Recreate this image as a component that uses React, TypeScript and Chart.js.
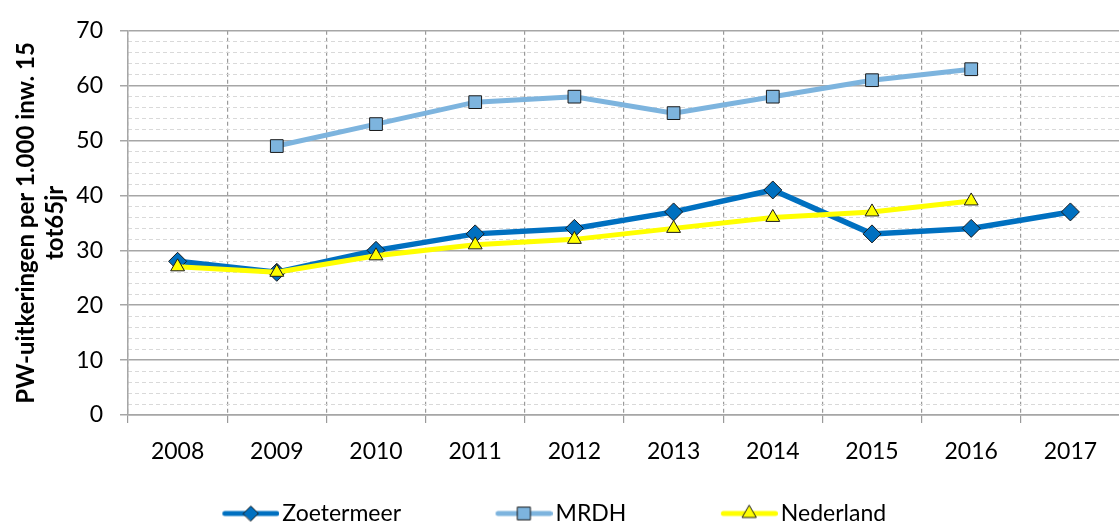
import React, { useEffect, useRef } from "react";
import { Chart, registerables } from "chart.js";

Chart.register(...registerables);

// ---- data ----
const years = ["2008", "2009", "2010", "2011", "2012", "2013", "2014", "2015", "2016", "2017"];
const zoetermeer = [28, 26, 30, 33, 34, 37, 41, 33, 34, 37];
const mrdh = [null, 49, 53, 57, 58, 55, 58, 61, 63, null];
const nederland = [27, 26, 29, 31, 32, 34, 36, 37, 39, null];
const seriesNames = ["Zoetermeer", "MRDH", "Nederland"];
const yTitle = ["PW-uitkeringen per 1.000 inw. 15", "tot65jr"];
const yMin = 0;
const yMax = 70;
const yMajorStep = 10;
const yMinorStep = 2;

const FONT = "Lato";
const C_ZOE = "#0070c0";
const C_MRDH = "#7db4de";
const C_NL = "#ffff00";
const C_EDGE = "#1a1a1a";

function drawMarker(ctx: CanvasRenderingContext2D, style: string, x: number, y: number, r: number, fill: string) {
  ctx.beginPath();
  if (style === "rectRot") {
    ctx.moveTo(x - r, y);
    ctx.lineTo(x, y - r);
    ctx.lineTo(x + r, y);
    ctx.lineTo(x, y + r);
  } else if (style === "rect") {
    const s = r * Math.SQRT1_2;
    ctx.rect(x - s, y - s, 2 * s, 2 * s);
  } else {
    const w = r * Math.sin((2 * Math.PI) / 3);
    ctx.moveTo(x, y - r);
    ctx.lineTo(x + w, y + r / 2);
    ctx.lineTo(x - w, y + r / 2);
  }
  ctx.closePath();
  ctx.fillStyle = fill;
  ctx.fill();
  ctx.lineWidth = 1;
  ctx.strokeStyle = C_EDGE;
  ctx.stroke();
}

function legendGlyph(color: string, style: string, r: number) {
  const W = 150;
  const H = 22;
  const L = 57;
  const E = W - L;
  const c = document.createElement("canvas");
  c.width = W;
  c.height = H;
  const ctx = c.getContext("2d")!;
  ctx.strokeStyle = color;
  ctx.lineWidth = 5;
  ctx.lineCap = "round";
  ctx.beginPath();
  ctx.moveTo(E + 2.5, H / 2);
  ctx.lineTo(W - 2.5, H / 2);
  ctx.stroke();
  drawMarker(ctx, style, E + L / 2, H / 2, r, color);
  return c;
}

export default function App() {
  const ref = useRef<HTMLCanvasElement>(null);

  useEffect(() => {
    const canvas = ref.current!;
    const glyphs = [
      legendGlyph(C_ZOE, "rectRot", 7.5),
      legendGlyph(C_MRDH, "rect", 9),
      legendGlyph(C_NL, "triangle", 8),
    ];
    const tickFont = { family: FONT, size: 23 };
    const chart = new Chart(canvas, {
      type: "line",
      data: {
        labels: years,
        datasets: [
          {
            label: seriesNames[0],
            data: zoetermeer,
            borderColor: C_ZOE,
            backgroundColor: C_ZOE,
            borderWidth: 5.5,
            pointStyle: "rectRot",
            pointRadius: 9,
            pointHoverRadius: 9,
            pointBackgroundColor: C_ZOE,
            pointBorderColor: C_EDGE,
            pointBorderWidth: 1,
            tension: 0,
            order: 3,
          },
          {
            label: seriesNames[1],
            data: mrdh,
            borderColor: C_MRDH,
            backgroundColor: C_MRDH,
            borderWidth: 5,
            pointStyle: "rect",
            pointRadius: 9,
            pointHoverRadius: 9,
            pointBackgroundColor: C_MRDH,
            pointBorderColor: C_EDGE,
            pointBorderWidth: 1,
            tension: 0,
            order: 2,
          },
          {
            label: seriesNames[2],
            data: nederland,
            borderColor: C_NL,
            backgroundColor: C_NL,
            borderWidth: 5,
            pointStyle: "triangle",
            pointRadius: 8,
            pointHoverRadius: 8,
            pointBackgroundColor: C_NL,
            pointBorderColor: C_EDGE,
            pointBorderWidth: 1,
            tension: 0,
            order: 1,
          },
        ],
      },
      options: {
        responsive: false,
        animation: false,
        events: [],
        layout: { padding: { left: 0, top: 24, right: 0, bottom: -11 } },
        scales: {
          x: {
            type: "category",
            offset: true,
            grid: { offset: true, color: "#9a9a9a", lineWidth: 1.2, tickLength: 8, drawTicks: true },
            border: { display: true, color: "#a6a6a6", width: 1.5, dash: [4, 3] },
            ticks: { padding: 15, font: tickFont, color: "#000", maxRotation: 0, autoSkip: false },
            afterFit: (s: any) => {
              s.height = 77;
            },
          },
          y: {
            type: "linear",
            position: "left",
            min: yMin,
            max: yMax,
            ticks: { stepSize: yMajorStep, padding: 17, font: tickFont, color: "#000" },
            grid: { color: "#a6a6a6", lineWidth: 1.5, tickLength: 8, drawTicks: true },
            border: { display: true, color: "#a6a6a6", width: 1.5 },
            title: {
              display: true,
              text: yTitle,
              color: "#000",
              font: { family: FONT, size: 24, weight: "bold", lineHeight: 1.2 },
              padding: { top: 118, bottom: 0 },
            },
            afterFit: (s: any) => {
              s.width = 234;
            },
          },
          yMinor: {
            type: "linear",
            position: "left",
            min: yMin,
            max: yMax,
            ticks: { display: false, stepSize: yMinorStep },
            grid: {
              color: (c: any) => (c.tick && c.tick.value % yMajorStep === 0 ? "rgba(0,0,0,0)" : "#d9d9d9"),
              lineWidth: 1,
              drawTicks: false,
            },
            border: { display: false, dash: [4, 3] },
            afterFit: (s: any) => {
              s.width = 0;
            },
          },
        },
        plugins: {
          tooltip: { enabled: false },
          title: { display: false },
          legend: {
            display: true,
            position: "bottom",
            labels: {
              usePointStyle: true,
              pointStyleWidth: 133,
              padding: 10,
              color: "#000",
              font: { family: FONT, size: 23 },
              generateLabels: (ch: any) =>
                ch.data.datasets.map((ds: any, i: number) => ({
                  text: ds.label,
                  fillStyle: "rgba(0,0,0,0)",
                  strokeStyle: "rgba(0,0,0,0)",
                  lineWidth: 0,
                  pointStyle: glyphs[i],
                  hidden: false,
                  datasetIndex: i,
                  fontColor: "#000",
                })),
            },
          },
        },
      } as any,
    });
    return () => chart.destroy();
  }, []);

  return (
    <div
      style={{
        position: "fixed",
        left: 0,
        top: 0,
        width: 1119,
        height: 524,
        overflow: "hidden",
        background: "#fff",
      }}
    >
      <div style={{ position: "absolute", left: -106, top: 0, width: 1236, height: 524 }}>
        <canvas ref={ref} width={1236} height={524} style={{ display: "block" }} />
      </div>
    </div>
  );
}
